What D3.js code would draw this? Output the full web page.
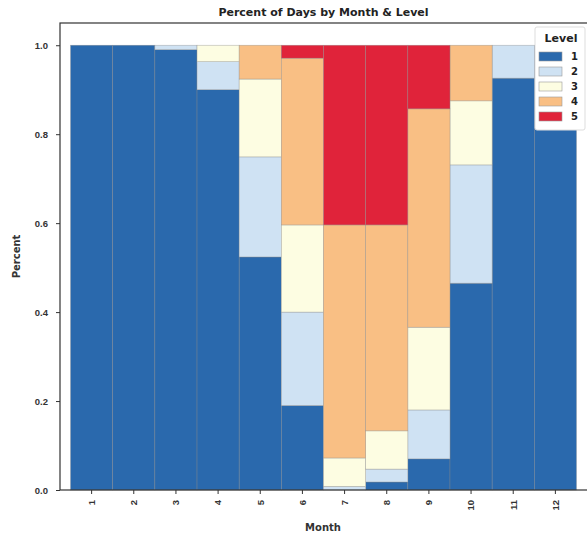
<!DOCTYPE html>
<html>
<head>
<meta charset="utf-8">
<script src="https://cdn.jsdelivr.net/npm/d3@7"></script>
<style>
  body { margin: 0; background: #fff; }
  svg { display: block; font-family: "DejaVu Sans", sans-serif; }
</style>
</head>
<body>
<div id="chart"></div>
<script>
const months = ["1", "2", "3", "4", "5", "6", "7", "8", "9", "10", "11", "12"];
const levels = ["1", "2", "3", "4", "5"];

// share of days per level, one entry per month
const level1 = [1.0, 1.0, 0.99, 0.90, 0.524, 0.19, 0.0, 0.018, 0.07, 0.465, 0.926, 1.0];
const level2 = [0, 0, 0.01, 0.063, 0.225, 0.21, 0.008, 0.029, 0.11, 0.266, 0.074, 0];
const level3 = [0, 0, 0, 0.037, 0.175, 0.196, 0.064, 0.086, 0.186, 0.144, 0, 0];
const level4 = [0, 0, 0, 0, 0.076, 0.375, 0.524, 0.463, 0.491, 0.125, 0, 0];
const level5 = [0, 0, 0, 0, 0, 0.029, 0.404, 0.404, 0.143, 0, 0, 0];

const yTicks = [0, 0.2, 0.4, 0.6, 0.8, 1.0];

const width = 587;
const height = 536;
const margin = {top: 23, right: 0, bottom: 46, left: 60};

const colors = ["#2a69ad", "#cfe2f3", "#fdfde2", "#f9bf84", "#e0233a"];

const table = months.map((m, i) => ({
  month: m,
  "1": level1[i], "2": level2[i], "3": level3[i], "4": level4[i], "5": level5[i]
}));

const series = d3.stack().keys(levels)(table);

const x = d3.scaleBand()
  .domain(months)
  .range([margin.left, 587])
  .paddingInner(0)
  .paddingOuter(0.25);

const y = d3.scaleLinear()
  .domain([0, 1.05])
  .range([height - margin.bottom, margin.top]);

const color = d3.scaleOrdinal().domain(levels).range(colors);

const svg = d3.select("#chart").append("svg")
  .attr("width", width)
  .attr("height", height);

svg.append("g")
  .selectAll("g")
  .data(series)
  .join("g")
  .attr("fill", d => color(d.key))
  .selectAll("rect")
  .data(d => d)
  .join("rect")
  .attr("x", d => x(d.data.month))
  .attr("width", x.bandwidth())
  .attr("y", d => y(d[1]))
  .attr("height", d => y(d[0]) - y(d[1]))
  .attr("stroke", "#8a8a8a")
  .attr("stroke-opacity", 0.6)
  .attr("stroke-width", 0.6);

// frame
svg.append("rect")
  .attr("x", margin.left)
  .attr("y", margin.top)
  .attr("width", 587 - margin.left + 2)
  .attr("height", y(0) - margin.top)
  .attr("fill", "none")
  .attr("stroke", "#333")
  .attr("stroke-width", 1.2);

const yAxis = svg.append("g")
  .attr("transform", `translate(${margin.left},0)`)
  .call(d3.axisLeft(y).tickValues(yTicks).tickFormat(d3.format(".1f")).tickSize(4).tickPadding(8));
yAxis.select(".domain").remove();
yAxis.selectAll("line").attr("stroke", "#333");
yAxis.selectAll("text").attr("font-size", 9.5).attr("fill", "#333").attr("font-weight", "bold");

const xAxis = svg.append("g")
  .attr("transform", `translate(0,${y(0)})`)
  .call(d3.axisBottom(x).tickSize(4).tickPadding(0));
xAxis.select(".domain").remove();
xAxis.selectAll("line").attr("stroke", "#333");
xAxis.selectAll("text")
  .attr("font-size", 9.5)
  .attr("fill", "#333")
  .attr("font-weight", "bold")
  .attr("transform", "translate(0,10) rotate(-90)")
  .attr("text-anchor", "end")
  .attr("dx", 0)
  .attr("dy", "0.35em")
  .attr("y", 0);

svg.append("text")
  .attr("x", (margin.left + 587) / 2)
  .attr("y", 16)
  .attr("text-anchor", "middle")
  .attr("font-size", 11)
  .attr("font-weight", "bold")
  .attr("fill", "#222")
  .text("Percent of Days by Month & Level");

svg.append("text")
  .attr("transform", `translate(20,${(margin.top + y(0)) / 2}) rotate(-90)`)
  .attr("text-anchor", "middle")
  .attr("font-size", 10)
  .attr("font-weight", "bold")
  .attr("fill", "#333")
  .text("Percent");

svg.append("text")
  .attr("x", 323)
  .attr("y", 531)
  .attr("text-anchor", "middle")
  .attr("font-size", 10)
  .attr("font-weight", "bold")
  .attr("fill", "#333")
  .text("Month");

// legend
const legend = svg.append("g").attr("transform", "translate(535,27)");
legend.append("rect")
  .attr("width", 50)
  .attr("height", 103)
  .attr("rx", 2)
  .attr("fill", "#fff")
  .attr("stroke", "#ddd");
legend.append("text")
  .attr("x", 26)
  .attr("y", 15)
  .attr("text-anchor", "middle")
  .attr("font-size", 11)
  .attr("font-weight", "bold")
  .attr("fill", "#222")
  .text("Level");
const item = legend.selectAll(".item")
  .data(levels)
  .join("g")
  .attr("class", "item")
  .attr("transform", (d, i) => `translate(4,${25 + i * 15})`);
item.append("rect")
  .attr("width", 23)
  .attr("height", 9)
  .attr("fill", d => color(d))
  .attr("stroke", "#999")
  .attr("stroke-width", 0.6);
item.append("text")
  .attr("x", 32)
  .attr("y", 8)
  .attr("font-size", 10)
  .attr("font-weight", "bold")
  .attr("fill", "#222")
  .text(d => d);
</script>
</body>
</html>
